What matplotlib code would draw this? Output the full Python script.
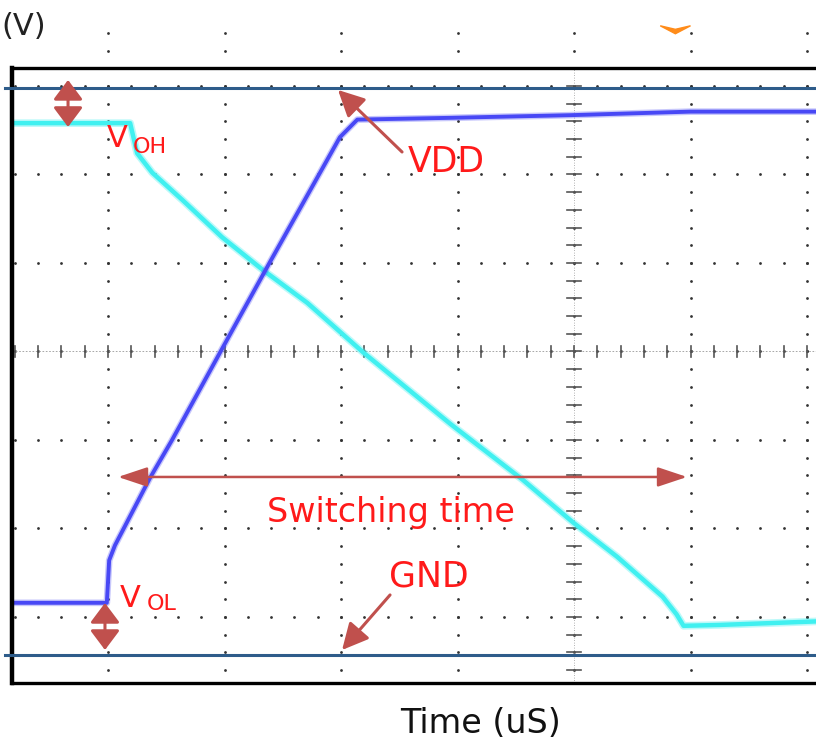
import numpy as np
import matplotlib.pyplot as plt

# scope traces, in screen divisions (0,0 = centre of the graticule)
vdd_t = [-4.82, -4.01, -3.99, -3.94, -3.64, -3.45, -3.00, -2.61, -2.01, -1.86, -1.06, -0.03, 1.00, 2.08]
vdd_v = [-2.84, -2.84, -2.36, -2.19, -1.43, -1.00, 0.08, 1.01, 2.42, 2.62, 2.64, 2.67, 2.71, 2.71]

out_t = [-4.82, -3.81, -3.75, -3.62, -3.36, -3.02, -2.67, -2.29, -1.81, -1.06, -0.44, -0.01, 0.37, 0.76, 0.88, 0.94, 1.25, 2.08]
out_v = [2.58, 2.58, 2.24, 2.02, 1.71, 1.29, 0.92, 0.55, -0.01, -0.82, -1.45, -1.93, -2.32, -2.77, -2.97, -3.10, -3.09, -3.05]

vdd_level = 2.98
gnd_level = -3.43

major_x = np.arange(-4, 3)
major_y = np.arange(-3, 4)
minor_x = np.round(np.arange(-24, 11) * 0.2, 1)
minor_y = np.round(np.arange(-18, 19) * 0.2, 1)

red = '#ff1a1a'
arrow_red = '#c0504d'


def arrow(ax, tail, tip, style, lw=2.2):
    ax.annotate('', xy=tip, xytext=tail,
                arrowprops=dict(arrowstyle=style, color=arrow_red, lw=lw,
                                shrinkA=0, shrinkB=0, mutation_scale=20),
                annotation_clip=False)


def run():
    fig = plt.figure(figsize=(8.16, 7.42), dpi=100)
    ax = fig.add_axes([12 / 816, 59 / 742, 804 / 816, 615 / 742])
    ax.set_xlim(-4.824, 2.077)
    ax.set_ylim(-3.746, 3.203)
    ax.set_xticks([]); ax.set_yticks([])
    ax.spines['right'].set_visible(False)
    ax.spines['left'].set_linewidth(3.2)
    ax.spines['top'].set_linewidth(2.4)
    ax.spines['bottom'].set_linewidth(2.4)

    # graticule dots
    for gx in major_x:
        ax.plot(np.full(len(minor_y), gx), minor_y, 'o', ms=2.0, color='#333333',
                mec='none', clip_on=False, zorder=1)
    for gy in major_y:
        ax.plot(minor_x, np.full(len(minor_x), gy), 'o', ms=2.0, color='#333333',
                mec='none', zorder=1)
    # centre axes with small ticks
    ax.axvline(0, color='#999999', lw=0.6, ls=(0, (1, 2)), zorder=1)
    ax.axhline(0, color='#999999', lw=0.6, ls=(0, (2, 2)), zorder=1)
    for y in minor_y[(minor_y > -3.7) & (minor_y < 3.2)]:
        ax.plot([-0.06, 0.06], [y, y], color='#555555', lw=1.2, zorder=1)
    for x in minor_x:
        ax.plot([x, x], [-0.06, 0.06], color='#555555', lw=1.2, zorder=1)

    # VDD and GND reference lines
    ax.plot([-4.884, 2.1], [vdd_level, vdd_level], color='#2e5c8a', lw=2.2, clip_on=False, zorder=3)
    ax.plot([-4.884, 2.1], [gnd_level, gnd_level], color='#2e5c8a', lw=2.2, clip_on=False, zorder=3)

    # traces
    ax.plot(out_t, out_v, color='#40f0f0', lw=5.5, alpha=0.35, solid_joinstyle='round', zorder=2)
    ax.plot(out_t, out_v, color='#40f0f0', lw=3.2, solid_joinstyle='round', zorder=2)
    ax.plot(vdd_t, vdd_v, color='#4848f5', lw=4.8, alpha=0.3, solid_joinstyle='round', zorder=2)
    ax.plot(vdd_t, vdd_v, color='#4848f5', lw=2.8, solid_joinstyle='round', zorder=2)

    # annotations
    arrow(ax, (-4.343, 2.537), (-4.343, 3.068), '<|-|>,head_length=0.6,head_width=0.45')
    arrow(ax, (-4.026, -2.842), (-4.026, -3.373), '<|-|>,head_length=0.6,head_width=0.45')
    arrow(ax, (-1.476, 2.254), (-2.026, 2.955), '-|>,head_length=0.8,head_width=0.4')
    arrow(ax, (-1.579, -2.751), (-1.991, -3.373), '-|>,head_length=0.8,head_width=0.4')
    arrow(ax, (-3.914, -1.418), (0.970, -1.418), '<|-|>,head_length=0.9,head_width=0.3', lw=1.8)

    tk = dict(color=red, ha='left', va='baseline', family='DejaVu Sans', zorder=5)
    ax.text(-4.009, 2.311, 'V', fontsize=22, **tk)
    ax.text(-3.785, 2.243, 'OH', fontsize=16, **tk)
    ax.text(-3.897, -2.887, 'V', fontsize=22, **tk)
    ax.text(-3.665, -2.921, 'OL', fontsize=16, **tk)
    ax.text(-1.425, 2.028, 'VDD', fontsize=25, **tk)
    ax.text(-2.635, -1.927, 'Switching time', fontsize=24, **tk)
    ax.text(-1.588, -2.661, 'GND', fontsize=25, **tk)

    # trigger marker
    ax.fill([0.74, 0.87, 1.0, 0.87], [3.68, 3.64, 3.68, 3.59], color='#ff8c1a',
            clip_on=False, zorder=5)

    fig.text(1 / 816, (742 - 35) / 742, '(V)', fontsize=22, color='#222222',
             ha='left', va='baseline')
    fig.text(400 / 816, 9 / 742, 'Time (uS)', fontsize=24, color='#111111',
             ha='left', va='baseline')

    fig.savefig('out.png', dpi=100)


if __name__ == '__main__':
    run()
